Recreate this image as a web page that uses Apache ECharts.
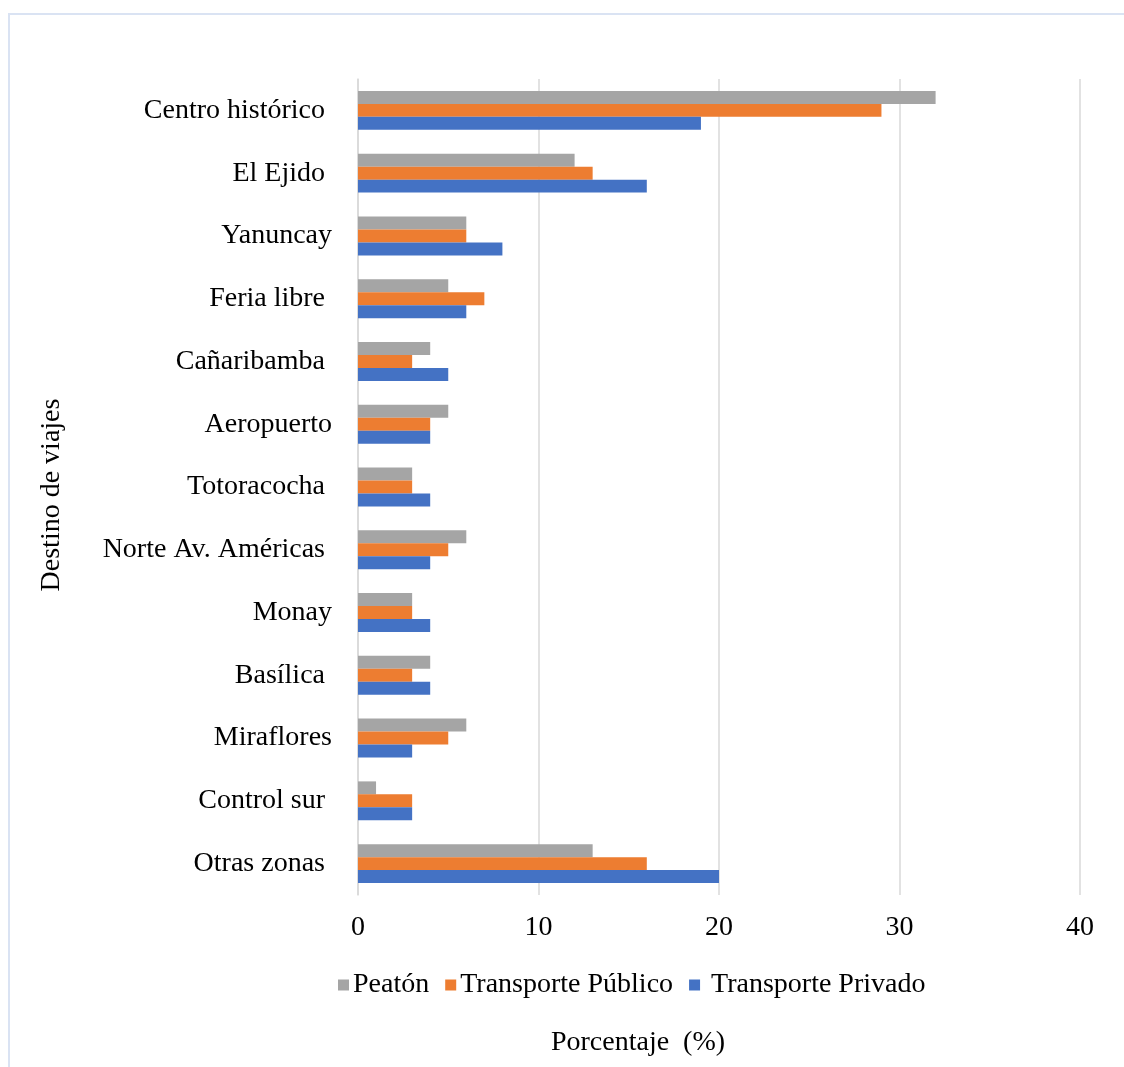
<!DOCTYPE html>
<html>
<head>
<meta charset="utf-8">
<script src="https://cdn.jsdelivr.net/npm/echarts@6/dist/echarts.min.js"></script>
<style>
  html, body { margin: 0; padding: 0; background: #fff; }
  #chart { width: 1124px; height: 1067px; }
</style>
</head>
<body>
<div id="chart"></div>
<script>
// destinos, de arriba hacia abajo
const destinos = ['Centro histórico ', 'El Ejido ', 'Yanuncay', 'Feria libre ', 'Cañaribamba ', 'Aeropuerto',
  'Totoracocha ', 'Norte Av. Américas ', 'Monay', 'Basílica ', 'Miraflores', 'Control sur ', 'Otras zonas '];
const peaton = [32, 12, 6, 5, 4, 5, 3, 6, 3, 4, 6, 1, 13];
const publico = [29, 13, 6, 7, 3, 4, 3, 5, 3, 3, 5, 3, 16];
const privado = [19, 16, 8, 6, 5, 4, 4, 4, 4, 4, 3, 3, 20];
const xTicks = [0, 10, 20, 30, 40];

const font = 'Liberation Serif';
const chart = echarts.init(document.getElementById('chart'));

function serie(name, data, color) {
  return {
    name: name,
    type: 'bar',
    data: data,
    barGap: '0%',
    barCategoryGap: '38%',
    itemStyle: { color: color },
    animation: false
  };
}

chart.setOption({
  backgroundColor: '#fff',
  textStyle: { fontFamily: font },
  graphic: [{
    type: 'rect',
    shape: { x: 9, y: 14, width: 1200, height: 1200 },
    style: { fill: 'none', stroke: '#dae3f3', lineWidth: 2 }
  }],
  grid: { left: 358, right: 44, top: 79, bottom: 172 },
  legend: {
    left: 333, top: 966,
    itemWidth: 11, itemHeight: 11, itemGap: 16,
    icon: 'rect',
    textStyle: { fontFamily: font, fontSize: 28, color: '#000', padding: [0, 0, 0, -1] },
    data: ['Peatón', 'Transporte Público', ' Transporte Privado']
  },
  xAxis: {
    type: 'value',
    min: xTicks[0], max: xTicks[xTicks.length - 1], interval: 10,
    name: 'Porcentaje  (%)',
    nameLocation: 'middle',
    nameGap: 134,
    nameTextStyle: { fontFamily: font, fontSize: 28, color: '#000', padding: [0, 162, 0, 0] },
    axisLine: { show: false },
    axisTick: { show: false },
    axisLabel: { fontFamily: font, fontSize: 28, color: '#000', margin: 19 },
    splitLine: { lineStyle: { color: '#d9d9d9', width: 1.5 } }
  },
  yAxis: {
    type: 'category',
    inverse: true,
    data: destinos,
    name: 'Destino de viajes',
    nameLocation: 'middle',
    nameGap: 292,
    nameTextStyle: { fontFamily: font, fontSize: 28, color: '#000', padding: [0, 16, 0, 0] },
    axisLine: { lineStyle: { color: '#d9d9d9', width: 1.5 } },
    axisTick: { show: false },
    axisLabel: { fontFamily: font, fontSize: 28, color: '#000', margin: 26 }
  },
  series: [
    serie('Peatón', peaton, '#a5a5a5'),
    serie('Transporte Público', publico, '#ed7d31'),
    serie(' Transporte Privado', privado, '#4472c4')
  ]
});
</script>
</body>
</html>
